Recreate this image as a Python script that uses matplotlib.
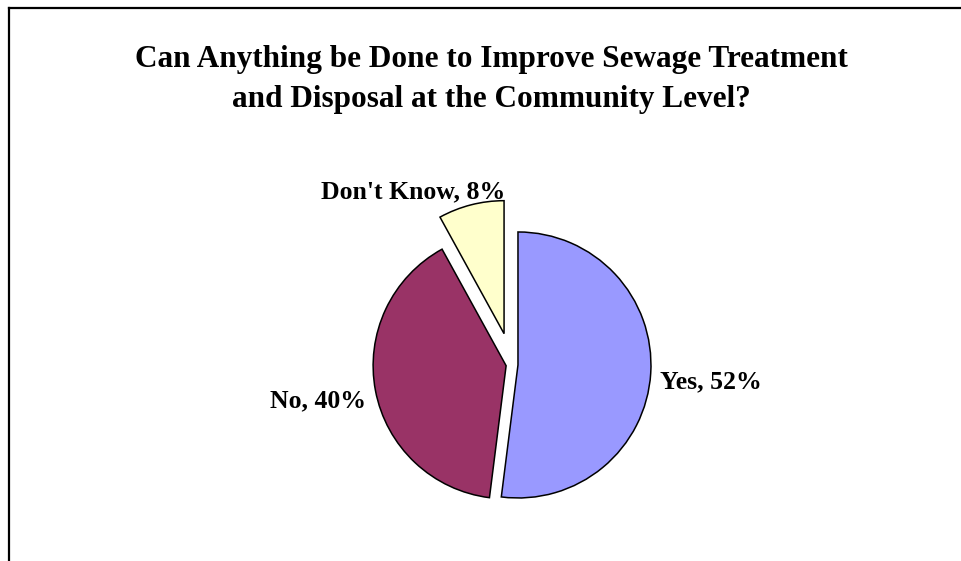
import matplotlib.pyplot as plt
from matplotlib.lines import Line2D

# survey answers, percent
answers = ["Yes", "No", "Don't Know"]
shares = [52, 40, 8]
colors = ["#9999FF", "#993366", "#FFFFCC"]
explode = [0.045, 0.045, 0.24]   # in pie radii

title = "Can Anything be Done to Improve Sewage Treatment\nand Disposal at the Community Level?"

W, H = 961, 561
fig = plt.figure(figsize=(W / 100, H / 100), dpi=100)
plt.rcParams['font.family'] = ['Liberation Serif', 'DejaVu Serif']

# frame around the chart area (only top and left edge fall inside the image)
fig.add_artist(Line2D([9 / W, 1], [1 - 8 / H, 1 - 8 / H], color="black", lw=1.6))
fig.add_artist(Line2D([9 / W, 9 / W], [0, 1 - 8 / H], color="black", lw=1.6))

fig.text(491 / W, 1 - 79 / H, title, ha="center", va="center", fontsize=22.5,
         fontweight="bold", linespacing=1.5)

# pie axes: radius 1 == 133 px
r_px = 133
cx, cy = 512, 364.6
half = 160
ax = fig.add_axes([(cx - half) / W, (H - cy - half) / H, 2 * half / W, 2 * half / H])

wedges, _ = ax.pie(shares, colors=colors, explode=explode, startangle=90,
                   counterclock=False, radius=1,
                   wedgeprops=dict(edgecolor="black", linewidth=1.1))
# pie() resets the limits, so set them afterwards
ax.set_xlim(-half / r_px, half / r_px)
ax.set_ylim(-half / r_px, half / r_px)
ax.set_aspect("equal")
ax.axis("off")

# label placement per slice (x, y, ha)
label_pos = [(1.11, -0.13, "left"), (-1.10, -0.27, "right"), (-0.05, 1.30, "right")]
for name, val, (lx, ly, ha) in zip(answers, shares, label_pos):
    ax.text(lx, ly, f"{name}, {val}%", ha=ha, va="center", fontsize=18.5,
            fontweight="bold", clip_on=False)

fig.savefig("out.png", dpi=100, facecolor="white")
